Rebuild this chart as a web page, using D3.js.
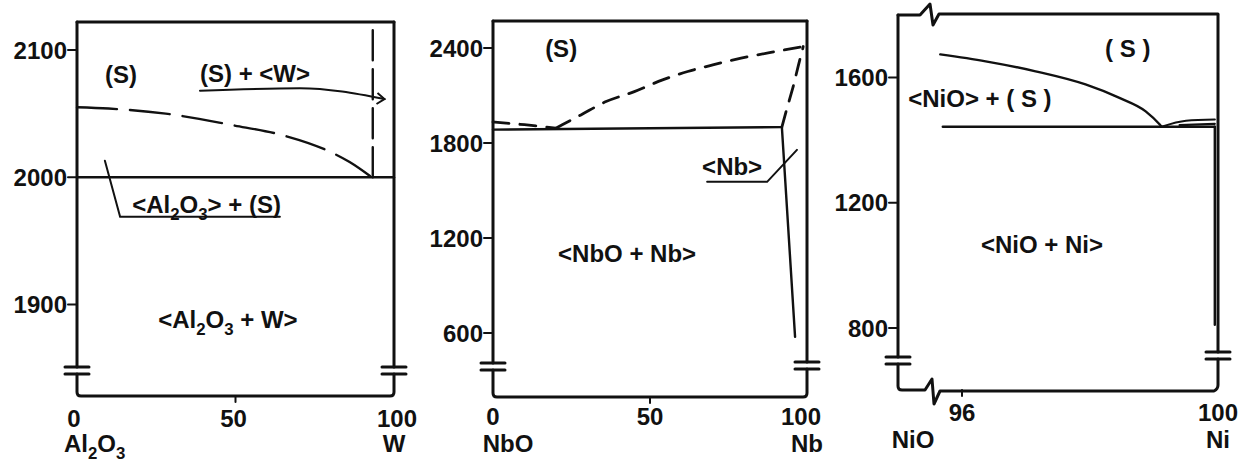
<!DOCTYPE html>
<html>
<head>
<meta charset="utf-8">
<script src="https://cdn.jsdelivr.net/npm/d3@7/dist/d3.min.js"></script>
<style>
  html, body { margin: 0; padding: 0; background: #fff; }
  svg text { font-family: "Liberation Sans", Arial, sans-serif; font-weight: bold; fill: #111; }
</style>
</head>
<body>
<svg id="chart" width="1245" height="464"></svg>
<script>
// ---- Al2O3 - W section (composition % W, temperature °C)
const al2o3YTicks = [1900, 2000, 2100];
const al2o3XTicks = [0, 50, 100];
const al2o3XTickLabels = ["0", "50", "100"];
const al2o3Liquidus = [[0, 2055], [10, 2054], [28, 2050], [49, 2041], [65, 2033], [79, 2021], [86, 2012], [93, 2000]];
const al2o3WBoundary = [[93.3, 2000], [93.3, 2122]];
const al2o3Eutectic = [[0, 2000], [100, 2000]];

// ---- NbO - Nb section
const nboYTicks = [600, 1200, 1800, 2400];
const nboXTicks = [0, 50, 100];
const nboXTickLabels = ["0", "50", "100"];
const nboLiquidusLeft = [[0, 1932], [10, 1915], [20, 1893]];
const nboLiquidusRight = [[20, 1893], [28, 1977], [36, 2061], [45, 2124], [54, 2198], [62, 2251], [70, 2293], [79, 2335], [90, 2377], [99, 2409]];
const nboSolidus = [[92, 1900], [93.5, 2010], [95.6, 2155], [97.2, 2285], [98.8, 2409]];
const nboEutectic = [[0, 1884], [92, 1900]];
const nboSolvus = [[92, 1900], [96.2, 575]];

// ---- NiO - Ni section (enlarged 95–100 % Ni)
const nioYTicks = [800, 1200, 1600];
const nioXTicks = [96, 100];
const nioXTickLabels = ["96", "100"];
const nioLiquidus = [[95.66, 1674], [96.37, 1652], [97.15, 1620], [97.93, 1578], [98.46, 1535], [98.87, 1492], [99.09, 1450], [99.12, 1443]];
const nioEutectic = [[95.7, 1443], [99.95, 1443]];
const nioLensUpper = [[99.12, 1443], [99.5, 1462], [99.95, 1466]];
const nioLensLower = [[99.4, 1448], [99.95, 1452]];
const nioSolvus = [[99.95, 1443], [99.95, 810]];

const svg = d3.select("#chart");
svg.append("rect").attr("width", 1245).attr("height", 464).attr("fill", "#fff");

const FS = 24;      // region labels
const TICK_FS = 24; // axis numbers

// rich text: pieces of [string, isSubscript]
function richText(g, pieces, x, y, anchor, size) {
  const fs = size || FS;
  const t = g.append("text").attr("x", x).attr("y", y)
    .attr("text-anchor", anchor || "start").attr("font-size", fs);
  let down = false;
  pieces.forEach(([s, sub]) => {
    const ts = t.append("tspan").text(s);
    if (sub) { ts.attr("font-size", fs * 0.7).attr("dy", 7); down = true; }
    else if (down) { ts.attr("dy", -7); down = false; }
  });
  return t;
}

function makePanel(cfg) {
  const g = svg.append("g");
  const x = d3.scaleLinear().domain(cfg.xDomain).range(cfg.xRange);
  const y = d3.scaleLinear().domain(cfg.yDomain).range(cfg.yRange);
  const x0 = cfg.xRange[0], x1 = cfg.xRange[1];
  const yTop = cfg.yRange[1], yBrk = cfg.yRange[0];
  const yBot = cfg.yBottom;
  const line = d3.line().x(d => x(d[0])).y(d => y(d[1]));
  const curve = d3.line().x(d => x(d[0])).y(d => y(d[1])).curve(d3.curveMonotoneX);

  const ax = g.append("g").attr("fill", "none").attr("stroke", "#111")
    .attr("stroke-width", 3).attr("stroke-linecap", "round").attr("stroke-linejoin", "round");

  // frame: top line, left axis, bottom line, right axis, each with breaks
  const bL = yBrk, bR = yBrk + cfg.rightBreakShift;
  const top = cfg.zigzagTop
    ? `M${x0},${yTop} H${cfg.zigzagTop[0]} L${cfg.zigzagTop[0] + 10},${yTop - 11} L${cfg.zigzagTop[0] + 13},${yTop + 10} L${cfg.zigzagTop[0] + 19},${yTop - 1} H${x1}`
    : `M${x0},${yTop} H${x1}`;
  ax.append("path").attr("d", top);
  ax.append("path").attr("d", `M${x0},${yTop} V${bL}`);
  ax.append("path").attr("d", `M${x1},${yTop} V${bR}`);
  [[x0, bL], [x1, bR]].forEach(([bx, by]) => {
    ax.append("path").attr("d", `M${bx - 12},${by} H${bx + 12} M${bx - 12},${by + 7} H${bx + 12}`);
  });
  const bottom = cfg.zigzagBottom
    ? `M${x0},${bL + 7} V${yBot - 4} Q${x0},${yBot} ${x0 + 4},${yBot} H${cfg.zigzagBottom[0]} L${cfg.zigzagBottom[0] + 7},${yBot - 11} L${cfg.zigzagBottom[0] + 9},${yBot + 14} L${cfg.zigzagBottom[0] + 15},${yBot + 1} H${x1 - 4} Q${x1},${yBot - 1} ${x1},${yBot - 5} V${bR + 7}`
    : `M${x0},${bL + 7} V${yBot - 4} Q${x0},${yBot} ${x0 + 4},${yBot} H${x1 - 4} Q${x1},${yBot} ${x1},${yBot - 4} V${bR + 7}`;
  ax.append("path").attr("d", bottom);

  // y ticks and labels
  cfg.yTicks.forEach(t => {
    ax.append("path").attr("d", `M${x0 - 9},${y(t)} H${x0}`).attr("stroke-width", 2);
    g.append("text").attr("x", x0 - 10).attr("y", y(t)).attr("dy", "0.36em")
      .attr("text-anchor", "end").attr("font-size", TICK_FS).text(t);
  });
  // x ticks: notch at interior ticks
  cfg.xTicks.forEach((t, i) => {
    const px = x(t);
    if (px > x0 + 2 && px < x1 - 2) ax.append("path").attr("d", `M${px},${yBot} v6`).attr("stroke-width", 2);
    g.append("text").attr("x", px + (cfg.xLabelShift[i] || 0)).attr("y", yBot + cfg.xLabelDy)
      .attr("text-anchor", "middle").attr("font-size", TICK_FS).text(cfg.xTickLabels[i]);
  });

  return { g, x, y, line, curve };
}

function drawPath(p, data, opts) {
  p.g.append("path").datum(data)
    .attr("d", opts.smooth ? p.curve : p.line)
    .attr("fill", "none").attr("stroke", "#111")
    .attr("stroke-width", opts.width || 2.4)
    .attr("stroke-linecap", "round")
    .attr("stroke-dasharray", opts.dash || null);
}

// ---------- Panel 1: Al2O3 – W
const p1 = makePanel({
  xDomain: [0, 100], xRange: [77, 394],
  yDomain: [1851, 2122], yRange: [367, 22], yBottom: 396, rightBreakShift: 0,
  yTicks: al2o3YTicks, xTicks: al2o3XTicks, xTickLabels: al2o3XTickLabels,
  xLabelDy: 31, xLabelShift: [-3, -2, 3]
});
drawPath(p1, al2o3Eutectic, {});
drawPath(p1, al2o3Liquidus, { smooth: true, dash: "40,13" });
drawPath(p1, al2o3WBoundary, { dash: "30,9" });
richText(p1.g, [["Al", 0], ["2", 1], ["O", 0], ["3", 1]], 64, 452, "start", TICK_FS);
richText(p1.g, [["W", 0]], 394, 452, "middle", TICK_FS);
richText(p1.g, [["(S)", 0]], p1.x(13.9), p1.y(2074), "middle");
richText(p1.g, [["(S) + <W>", 0]], p1.x(38.8), p1.y(2074.5), "start");
richText(p1.g, [["<Al", 0], ["2", 1], ["O", 0], ["3", 1], ["> + (S)", 0]], p1.x(17.4), p1.y(1972), "start");
richText(p1.g, [["<Al", 0], ["2", 1], ["O", 0], ["3", 1], [" + W>", 0]], p1.x(47.6), p1.y(1882), "middle");
// leaders
const lead1 = [[38.8, 2068], [70.3, 2070], [97, 2061.5]];
drawPath(p1, lead1, { smooth: true, width: 2 });
p1.g.append("path")
  .attr("d", `M${p1.x(97) - 7},${p1.y(2061.5) - 6} L${p1.x(97)},${p1.y(2061.5)} L${p1.x(97) - 8},${p1.y(2061.5) + 5}`)
  .attr("fill", "none").attr("stroke", "#111").attr("stroke-width", 2);
drawPath(p1, [[8.8, 2013], [13.6, 1969], [64, 1969]], { width: 2 });

// ---------- Panel 2: NbO – Nb
const p2 = makePanel({
  xDomain: [0, 100], xRange: [493, 807],
  yDomain: [410, 2570], yRange: [363, 21], yBottom: 397, rightBreakShift: -1,
  yTicks: nboYTicks, xTicks: nboXTicks, xTickLabels: nboXTickLabels,
  xLabelDy: 28, xLabelShift: [0, 0, -6]
});
drawPath(p2, nboEutectic, {});
drawPath(p2, nboSolvus, {});
drawPath(p2, nboLiquidusLeft, { smooth: true, dash: "16,11", width: 2.8 });
drawPath(p2, nboLiquidusRight, { smooth: true, dash: "16,11", width: 2.8 });
drawPath(p2, nboSolidus, { smooth: false, dash: "16,11", width: 2.8 });
richText(p2.g, [["NbO", 0]], 508, 452, "middle", TICK_FS);
richText(p2.g, [["Nb", 0]], 807, 452, "middle", TICK_FS);
richText(p2.g, [["(S)", 0]], p2.x(21.7), p2.y(2343), "middle");
richText(p2.g, [["<NbO + Nb>", 0]], p2.x(42.7), p2.y(1048), "middle");
richText(p2.g, [["<Nb>", 0]], p2.x(66.6), p2.y(1598), "start");
drawPath(p2, [[68.2, 1554], [87.3, 1554], [96.8, 1756]], { width: 2 });

// ---------- Panel 3: NiO – Ni
const p3 = makePanel({
  xDomain: [95, 100], xRange: [898, 1218],
  yDomain: [707, 1800], yRange: [357, 15], yBottom: 390, rightBreakShift: -5,
  yTicks: nioYTicks, xTicks: nioXTicks, xTickLabels: nioXTickLabels,
  xLabelDy: 31, xLabelShift: [0, 0],
  zigzagTop: [920], zigzagBottom: [925]
});
drawPath(p3, nioEutectic, {});
drawPath(p3, nioLiquidus, { smooth: true });
drawPath(p3, nioLensUpper, { smooth: true, width: 2.2 });
drawPath(p3, nioLensLower, { width: 2.2 });
drawPath(p3, nioSolvus, {});
richText(p3.g, [["NiO", 0]], 913, 448, "middle", TICK_FS);
richText(p3.g, [["Ni", 0]], 1218, 448, "middle", TICK_FS);
richText(p3.g, [["( S )", 0]], p3.x(98.59), p3.y(1666), "middle");
richText(p3.g, [["<NiO> + ( S )", 0]], p3.x(95.16), p3.y(1506), "start");
richText(p3.g, [["<NiO + Ni>", 0]], p3.x(97.25), p3.y(1039), "middle");
</script>
</body>
</html>
